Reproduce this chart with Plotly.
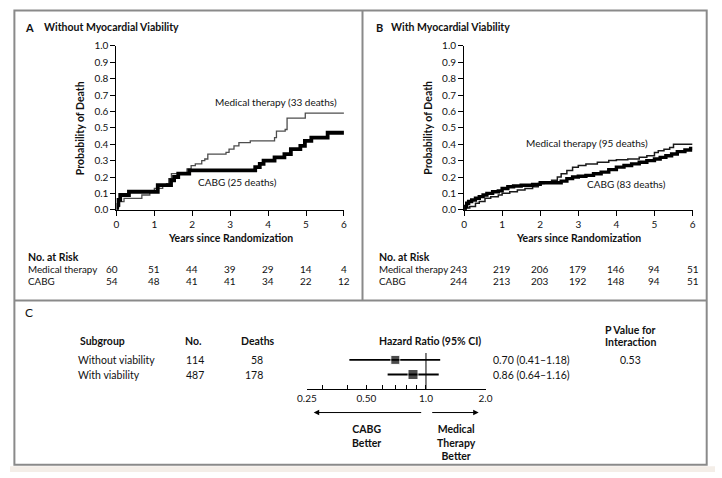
import math
import plotly.graph_objects as go

# ---------------- data ----------------
years = [0, 1, 2, 3, 4, 5, 6]

# Panel A: without myocardial viability (Kaplan-Meier step points)
a_med_t = [0, 0.03, 0.08, 0.2, 0.67, 0.88, 1.0, 1.22, 1.32, 1.38, 1.45, 1.86, 1.97, 2.08, 2.25, 2.33,
           2.41, 2.89, 2.97, 3.1, 3.23, 3.53, 4.17, 4.22, 4.45, 4.5, 4.98, 6.0]
a_med_p = [0, 0.02, 0.05, 0.07, 0.09, 0.11, 0.13, 0.15, 0.16, 0.19, 0.22, 0.25, 0.27, 0.28, 0.30, 0.31,
           0.34, 0.35, 0.37, 0.39, 0.41, 0.42, 0.44, 0.48, 0.49, 0.56, 0.59, 0.59]
a_cabg_t = [0, 0.02, 0.05, 0.1, 0.33, 1.09, 1.44, 1.52, 1.63, 1.92, 3.66, 3.78, 3.88, 4.17, 4.43, 4.6,
            4.85, 4.97, 5.14, 5.57, 6.0]
a_cabg_p = [0, 0.03, 0.06, 0.09, 0.11, 0.15, 0.18, 0.20, 0.22, 0.24, 0.26, 0.28, 0.30, 0.32, 0.34, 0.37,
            0.39, 0.42, 0.44, 0.47, 0.47]

# Panel B: with myocardial viability
b_med_t = [0, 0.05, 0.15, 0.3, 0.4, 0.55, 0.7, 0.9, 1.0, 1.2, 1.4, 1.6, 1.8, 1.95, 2.1, 2.3, 2.45, 2.55,
           2.7, 2.85, 3.0, 3.2, 3.5, 3.8, 4.0, 4.3, 4.6, 4.8, 5.0, 5.1, 5.25, 5.4, 5.5, 6.0]
b_med_p = [0, 0.01, 0.02, 0.04, 0.05, 0.07, 0.08, 0.09, 0.10, 0.11, 0.12, 0.13, 0.14, 0.16, 0.17, 0.18,
           0.20, 0.22, 0.24, 0.26, 0.27, 0.28, 0.29, 0.30, 0.305, 0.31, 0.32, 0.33, 0.35, 0.36, 0.37,
           0.38, 0.40, 0.40]
b_cabg_t = [0, 0.03, 0.07, 0.12, 0.2, 0.3, 0.4, 0.5, 0.6, 0.75, 0.9, 1.0, 1.15, 1.3, 1.5, 1.8, 2.0, 2.3,
            2.55, 2.7, 2.85, 3.0, 3.2, 3.4, 3.6, 3.8, 4.0, 4.2, 4.4, 4.6, 4.8, 5.0, 5.15, 5.3, 5.45, 5.6,
            5.8, 5.95, 6.0]
b_cabg_p = [0, 0.02, 0.04, 0.05, 0.06, 0.07, 0.08, 0.09, 0.10, 0.11, 0.115, 0.13, 0.14, 0.145, 0.15,
            0.155, 0.165, 0.165, 0.175, 0.19, 0.20, 0.205, 0.21, 0.22, 0.23, 0.245, 0.26, 0.27, 0.28,
            0.29, 0.30, 0.31, 0.32, 0.33, 0.34, 0.355, 0.365, 0.375, 0.375]

# Numbers at risk
a_risk_med = [60, 51, 44, 39, 29, 14, 4]
a_risk_cabg = [54, 48, 41, 41, 34, 22, 12]
b_risk_med = [243, 219, 206, 179, 146, 94, 51]
b_risk_cabg = [244, 213, 203, 192, 148, 94, 51]

# Forest plot
subgroups = ["Without viability", "With viability"]
sub_n = [114, 487]
sub_deaths = [58, 178]
hr = [0.70, 0.86]
hr_lo = [0.41, 0.64]
hr_hi = [1.18, 1.16]
p_interaction = "0.53"
hr_ticks = [0.25, 0.3, 0.4, 0.5, 0.6, 0.7, 0.8, 0.9, 1.0, 2.0]
hr_ticktext = ["0.25", "", "", "0.50", "", "", "", "", "1.0", "2.0"]

# ---------------- layout helpers ----------------
W, H = 722, 478
FONT = "Lato"
TXT = "#111111"


def px(x):
    return x / W


def py(y):
    return 1 - y / H


fig = go.Figure()

# KM curves
fig.add_trace(go.Scatter(x=a_med_t, y=a_med_p, mode="lines", xaxis="x", yaxis="y",
                         line=dict(shape="hv", color="#4d4d4d", width=1.3)))
fig.add_trace(go.Scatter(x=a_cabg_t, y=a_cabg_p, mode="lines", xaxis="x", yaxis="y",
                         line=dict(shape="hv", color="#000000", width=3.8)))
fig.add_trace(go.Scatter(x=b_med_t, y=b_med_p, mode="lines", xaxis="x2", yaxis="y2",
                         line=dict(shape="hv", color="#1a1a1a", width=1.5)))
fig.add_trace(go.Scatter(x=b_cabg_t, y=b_cabg_p, mode="lines", xaxis="x2", yaxis="y2",
                         line=dict(shape="hv", color="#000000", width=3.4)))

# Forest plot
rows_y = [len(subgroups) - i for i in range(len(subgroups))]  # 2, 1
for i in range(len(subgroups)):
    fig.add_trace(go.Scatter(x=[hr_lo[i], hr_hi[i]], y=[rows_y[i], rows_y[i]], mode="lines",
                             xaxis="x3", yaxis="y3", line=dict(color="black", width=1.8)))
fig.add_trace(go.Scatter(x=hr, y=rows_y, mode="markers", xaxis="x3", yaxis="y3",
                         marker=dict(symbol="square", size=[9, 10], color="black")))
fig.add_trace(go.Scatter(x=[1.0, 1.0], y=[0, 2.47], mode="lines", xaxis="x3", yaxis="y3",
                         line=dict(color="black", width=1)))

axis_common = dict(showline=True, linecolor="black", linewidth=1, ticks="outside", ticklen=5,
                   tickcolor="black", tickwidth=1, showgrid=False, zeroline=False,
                   tickfont=dict(size=10, family=FONT, color=TXT))

yticks = [round(0.1 * k, 1) for k in range(11)]

fig.update_layout(
    width=W, height=H, margin=dict(l=0, r=0, t=0, b=0, pad=0),
    paper_bgcolor="white", plot_bgcolor="white", showlegend=False,
    font=dict(family=FONT, size=10, color=TXT),
    xaxis=dict(domain=[px(109), px(342)], range=[0, 6], anchor="y", tickvals=years, **axis_common),
    yaxis=dict(domain=[py(209), py(41)], range=[0, 1], anchor="x", tickvals=yticks,
               tickformat=".1f", **axis_common),
    xaxis2=dict(domain=[px(465), px(699)], range=[0, 6], anchor="y2", tickvals=years, **axis_common),
    yaxis2=dict(domain=[py(209), py(41)], range=[0, 1], anchor="x2", tickvals=yticks,
                tickformat=".1f", **axis_common),
    xaxis3=dict(domain=[px(304), px(487)], type="log", range=[math.log10(0.25), math.log10(2.0)],
                anchor="y3", showline=True, linecolor="black", linewidth=1, ticks="inside",
                ticklen=4, tickcolor="black", tickvals=hr_ticks, ticktext=hr_ticktext,
                showgrid=False, zeroline=False, tickfont=dict(size=10, family=FONT, color=TXT)),
    yaxis3=dict(domain=[py(393), py(348)], range=[0, 3], anchor="x3", visible=False),
)

ann = []


def text(x, y, s, xanchor="center", yanchor="middle", size=10, xref="paper", yref="paper", **kw):
    ann.append(dict(x=x, y=y, text=s, xref=xref, yref=yref, xanchor=xanchor, yanchor=yanchor,
                    showarrow=False, font=dict(size=size, family=FONT, color=TXT), **kw))


# Panel titles
text(px(13), py(22), "<b>A</b>", xanchor="left", size=11)
text(px(33), py(22), "<b>Without Myocardial Viability</b>", xanchor="left", size=10.5)
text(px(373), py(22), "<b>B</b>", xanchor="left", size=11)
text(px(388), py(22), "<b>With Myocardial Viability</b>", xanchor="left", size=10.5)
text(px(13), py(314), "C", xanchor="left", size=12)

# Y axis titles
text(px(72), py(125), "<b>Probability of Death</b>", textangle=-90, size=10.5)
text(px(428), py(125), "<b>Probability of Death</b>", textangle=-90, size=10.5)

# X axis titles
text(3, py(238), "<b>Years since Randomization</b>", xref="x", size=10.5)
text(3, py(238), "<b>Years since Randomization</b>", xref="x2", size=10.5)

# Curve labels
text(4.2, 0.655, "Medical therapy (33 deaths)", xref="x", yref="y")
text(3.2, 0.167, "CABG (25 deaths)", xref="x", yref="y")
text(3.23, 0.41, "Medical therapy (95 deaths)", xref="x2", yref="y2")
text(4.26, 0.16, "CABG (83 deaths)", xref="x2", yref="y2")

# Risk tables
for xref, lx, med, cabg, shift0 in [("x", 16, a_risk_med, a_risk_cabg, -4),
                                    ("x2", 376, b_risk_med, b_risk_cabg, -5)]:
    text(px(lx), py(257), "<b>No. at Risk</b>", xanchor="left", size=10.5)
    text(px(lx), py(270), "Medical therapy", xanchor="left", size=9.8)
    text(px(lx), py(282), "CABG", xanchor="left", size=9.8)
    for i, yv in enumerate(years):
        sh = shift0 if i == 0 else 0
        text(yv, py(270), str(med[i]), xref=xref, size=10, xshift=sh)
        text(yv, py(282), str(cabg[i]), xref=xref, size=10, xshift=sh)

# Forest plot table
text(px(70), py(344), "<b>Subgroup</b>", xanchor="left", size=10.5)
text(px(177), py(344), "<b>No.</b>", xanchor="left", size=10.5)
text(px(235), py(344), "<b>Deaths</b>", xanchor="left", size=10.5)
text(px(430), py(344), "<b>Hazard Ratio (95% CI)</b>", size=10.5)
text(px(635), py(332), "<b>P Value for</b>", size=10.5)
text(px(635), py(345), "<b>Interaction</b>", size=10.5)
for i in range(len(subgroups)):
    text(px(68), rows_y[i], subgroups[i], xanchor="left", yref="y3", size=10.5)
    text(px(178), rows_y[i], str(sub_n[i]), xanchor="left", yref="y3", size=10.5)
    text(px(261), rows_y[i], str(sub_deaths[i]), xanchor="right", yref="y3", size=10.5)
    text(px(493), rows_y[i], f"{hr[i]:.2f} ({hr_lo[i]:.2f}\u2013{hr_hi[i]:.2f})", xanchor="left",
         yref="y3", size=10.5)
text(px(635), rows_y[0], p_interaction, yref="y3", size=10.5)

# Arrows and direction labels
text(px(365), py(426), "<b>CABG<br>Better</b>", yanchor="top", size=10.5)
text(px(457), py(426), "<b>Medical<br>Therapy<br>Better</b>", yanchor="top", size=10.5)
for head, tail in [(311, 420), (480, 432)]:
    ann.append(dict(x=px(head), y=py(417), xref="paper", yref="paper", ax=tail - head, ay=0,
                    text="", showarrow=True, arrowhead=2, arrowsize=1.1, arrowwidth=1,
                    arrowcolor="black"))

fig.update_layout(annotations=ann)

# Frame lines
BORDER = "#8a8a8a"
shapes = [
    dict(type="rect", xref="paper", yref="paper", x0=0, x1=1, y0=py(478), y1=py(472),
         fillcolor="#f4eee8", line=dict(width=0), layer="below"),
    dict(type="rect", xref="paper", yref="paper", x0=px(4.5), x1=px(713.5), y0=py(470.5), y1=py(4.5),
         line=dict(color=BORDER, width=2)),
    dict(type="line", xref="paper", yref="paper", x0=px(361), x1=px(361), y0=py(4.5), y1=py(302),
         line=dict(color=BORDER, width=2)),
    dict(type="line", xref="paper", yref="paper", x0=px(4.5), x1=px(713.5), y0=py(302), y1=py(302),
         line=dict(color=BORDER, width=2)),
]
fig.update_layout(shapes=shapes)

fig.write_html(
    "out.html",
    config={"displayModeBar": False},
    post_script="document.body.style.margin='0';document.body.style.overflow='hidden';"
                "document.documentElement.style.overflow='hidden';",
)
